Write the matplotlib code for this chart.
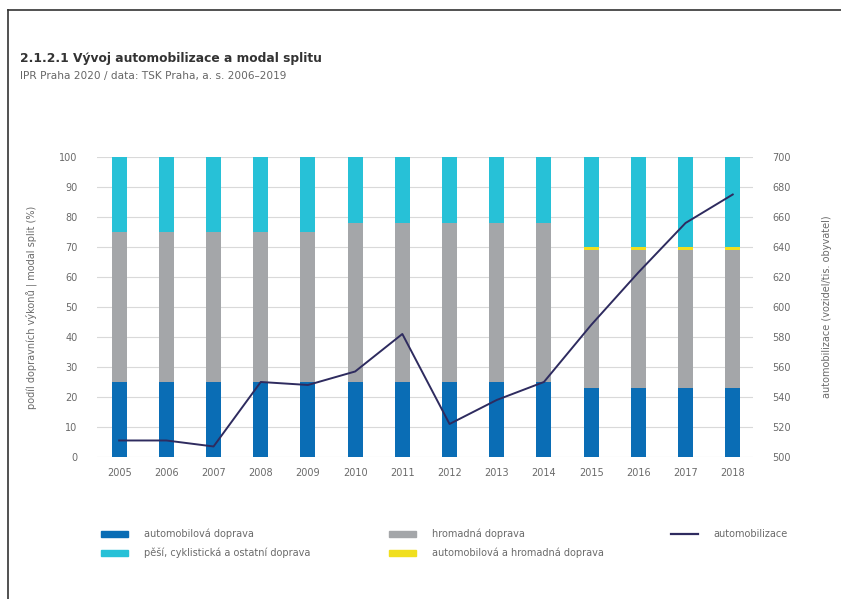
import matplotlib
matplotlib.use("Agg")
import matplotlib.pyplot as plt
import numpy as np
from matplotlib.lines import Line2D
from matplotlib.patches import Patch

plt.rcParams["font.family"] = ["DejaVu Sans"]

years = ["2005", "2006", "2007", "2008", "2009", "2010", "2011",
         "2012", "2013", "2014", "2015", "2016", "2017", "2018"]
auto = [25, 25, 25, 25, 25, 25, 25, 25, 25, 25, 23, 23, 23, 23]
hromadna = [50, 50, 50, 50, 50, 53, 53, 53, 53, 53, 46, 46, 46, 46]
auto_hromadna = [0, 0, 0, 0, 0, 0, 0, 0, 0, 0, 1, 1, 1, 1]
pesi = [25, 25, 25, 25, 25, 22, 22, 22, 22, 22, 30, 30, 30, 30]
automobilizace = [511, 511, 507, 550, 548, 557, 582, 522, 538, 550,
                  588, 623, 656, 675]

c_auto = "#0a6db5"
c_hrom = "#a4a6a9"
c_mix = "#f0df1e"
c_pesi = "#27c1d7"
c_line = "#2e2b5f"
c_text = "#6a6a6a"

fig = plt.figure(figsize=(8.41, 5.99), dpi=100)
ax = fig.add_axes([0.1153, 0.2371, 0.7801, 0.5008])

x = np.arange(len(years))
w = 0.32
b1 = np.array(auto)
b2 = b1 + np.array(hromadna)
b3 = b2 + np.array(auto_hromadna)
ax.bar(x, auto, w, color=c_auto, zorder=2)
ax.bar(x, hromadna, w, bottom=b1, color=c_hrom, zorder=2)
ax.bar(x, auto_hromadna, w, bottom=b2, color=c_mix, zorder=2)
ax.bar(x, pesi, w, bottom=b3, color=c_pesi, zorder=2)

ax.set_ylim(0, 100)
ax.set_xlim(-0.47, 13.43)
ax.set_yticks(range(0, 101, 10))
ax.set_xticks(x)
ax.set_xticklabels(years)
ax.grid(axis="y", color="#d9d9d9", linewidth=0.8, zorder=0)
ax.set_axisbelow(True)
for s in ax.spines.values():
    s.set_visible(False)
ax.tick_params(axis="both", length=0, colors=c_text, labelsize=7)
ax.tick_params(axis="y", pad=14)
ax.tick_params(axis="x", pad=8)
ax.set_ylabel("podíl dopravních výkonů | modal split (%)", color=c_text,
              fontsize=7, labelpad=16)

ax2 = ax.twinx()
ax2.plot(x, automobilizace, color=c_line, linewidth=1.4, zorder=3)
ax2.set_ylim(500, 700)
ax2.set_yticks(range(500, 701, 20))
for s in ax2.spines.values():
    s.set_visible(False)
ax2.tick_params(axis="y", length=0, colors=c_text, labelsize=7, pad=14)
ax2.set_ylabel("automobilizace (vozidel/tis. obyvatel)", color=c_text,
               fontsize=7, labelpad=22)

# title block
fig.text(0.024, 0.903, "2.1.2.1 Vývoj automobilizace a modal splitu",
         fontsize=8.8, fontweight="bold", color="#333333", va="center")
fig.text(0.024, 0.873, "IPR Praha 2020 / data: TSK Praha, a. s. 2006–2019",
         fontsize=7.6, color="#666666", va="center")

# frame lines
fig.add_artist(Line2D([8 / 841, 1], [1 - 10 / 599] * 2, color="#333333",
                      linewidth=1.2, transform=fig.transFigure))
fig.add_artist(Line2D([8 / 841] * 2, [0, 1 - 10 / 599], color="#333333",
                      linewidth=1.2, transform=fig.transFigure))

# legend
def leg(xp, yp, handle, label):
    l = fig.legend([handle], [label], loc="center left",
                   bbox_to_anchor=(xp / 841, 1 - yp / 599), frameon=False,
                   fontsize=7, handlelength=2.8, handleheight=0.6,
                   handletextpad=1.6, labelcolor=c_text, borderpad=0)
    return l

leg(96, 534, Patch(color=c_auto), "automobilová doprava")
leg(96, 553, Patch(color=c_pesi), "pěší, cyklistická a ostatní doprava")
leg(384, 534, Patch(color=c_hrom), "hromadná doprava")
leg(384, 553, Patch(color=c_mix), "automobilová a hromadná doprava")
leg(666, 534, Line2D([], [], color=c_line, linewidth=1.6), "automobilizace")

fig.savefig("out.png", dpi=100)
